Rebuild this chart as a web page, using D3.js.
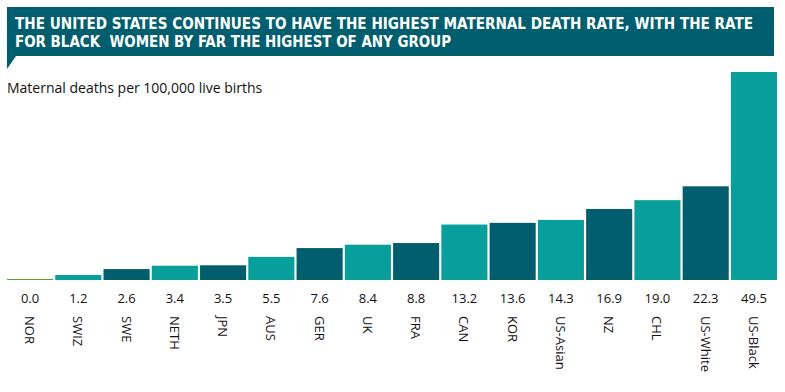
<!DOCTYPE html>
<html lang="en">
<head>
<meta charset="UTF-8">
<title>Maternal deaths</title>
<script src="https://d3js.org/d3.v7.min.js"></script>
<style>
    body { margin: 0; background: #fff; }
    svg { display: block; }
    .title { font-family: "DejaVu Sans Condensed", "DejaVu Sans", sans-serif; font-stretch: condensed; font-weight: bold; font-size: 15.5px; fill: #fff; }
    .lbl { font-family: "Open Sans", sans-serif; font-size: 13px; fill: #111; }
</style>
</head>
<body>
<svg id="chart" width="785" height="392"></svg>
<script>
    // data
    const categories = ["NOR", "SWIZ", "SWE", "NETH", "JPN", "AUS", "GER", "UK", "FRA", "CAN", "KOR", "US-Asian", "NZ", "CHL", "US-White", "US-Black"];
    const rates = [0.0, 1.2, 2.6, 3.4, 3.5, 5.5, 7.6, 8.4, 8.8, 13.2, 13.6, 14.3, 16.9, 19.0, 22.3, 49.5];
    const titleLines = ["THE UNITED STATES CONTINUES TO HAVE THE HIGHEST MATERNAL DEATH RATE, WITH THE RATE",
                        "FOR BLACK  WOMEN BY FAR THE HIGHEST OF ANY GROUP"];
    const titleWidths = [738, 436];
    const unitLabel = "Maternal deaths per 100,000 live births";

    const teal = "#079e9b", dark = "#005e6e", green = "#5aa02c";

    let svg = d3.select("#chart");

    // banner with little tail
    svg.append("path")
        .attr("d", "M7,7 H774 V56 H16 L7,69 Z")
        .attr("fill", dark);
    svg.selectAll(".title")
        .data(titleLines)
        .enter().append("text")
        .attr("class", "title")
        .attr("x", 15)
        .attr("y", (d, i) => 29 + i * 18)
        .attr("textLength", (d, i) => titleWidths[i])
        .attr("lengthAdjust", "spacingAndGlyphs")
        .style("white-space", "pre")
        .text(d => d);

    svg.append("text")
        .attr("class", "lbl")
        .attr("x", 7)
        .attr("y", 93)
        .style("font-size", "14px")
        .text(unitLabel);

    let x = d3.scaleBand()
        .domain(categories)
        .range([7, 777])
        .paddingInner(0.045)
        .paddingOuter(0);

    let y = d3.scaleLinear()
        .domain([0, 49.5])
        .range([280, 72]);

    let data = categories.map((c, i) => ({name: c, value: rates[i], i: i}));

    svg.selectAll(".bar")
        .data(data.filter(d => d.value > 0))
        .enter().append("rect")
        .attr("class", "bar")
        .attr("x", d => x(d.name))
        .attr("width", x.bandwidth())
        .attr("y", d => y(d.value))
        .attr("height", d => y(0) - y(d.value))
        .attr("fill", d => d.i % 2 === 1 ? teal : dark);

    // zero value drawn as a thin line
    svg.selectAll(".zero")
        .data(data.filter(d => d.value === 0))
        .enter().append("line")
        .attr("x1", d => x(d.name))
        .attr("x2", d => x(d.name) + x.bandwidth())
        .attr("y1", y(0) - 0.5)
        .attr("y2", y(0) - 0.5)
        .attr("stroke", green)
        .attr("stroke-width", 1.2);

    svg.selectAll(".val")
        .data(data)
        .enter().append("text")
        .attr("class", "lbl")
        .attr("x", d => x(d.name) + x.bandwidth() / 2)
        .attr("y", 303)
        .attr("text-anchor", "middle")
        .text(d => d.value.toFixed(1));

    svg.selectAll(".cat")
        .data(data)
        .enter().append("text")
        .attr("class", "lbl")
        .attr("transform", d => "translate(" + (x(d.name) + x.bandwidth() / 2 - 5) + ",316) rotate(90)")
        .attr("text-anchor", "start")
        .text(d => d.name);
</script>
</body>
</html>
